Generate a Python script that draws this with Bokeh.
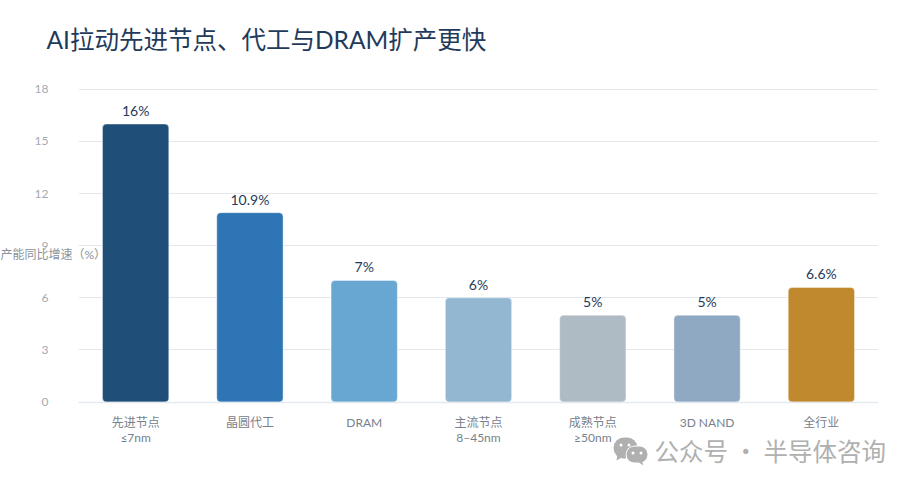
from bokeh.plotting import figure
from bokeh.models import (ColumnDataSource, FactorRange, Range1d, FixedTicker, Label,
                          BoxAnnotation, PolyAnnotation)
from bokeh.core.properties import value
from bokeh.embed import file_html
from bokeh.resources import INLINE

categories = ["先进节点\n≤7nm", "晶圆代工", "DRAM", "主流节点\n8–45nm", "成熟节点\n≥50nm", "3D NAND", "全行业"]
growth = [16, 10.9, 7, 6, 5, 5, 6.6]
bar_colors = ["#1F4E79", "#2E75B6", "#69A7D3", "#93B6D1", "#AEBBC5", "#8FA9C2", "#C0892E"]
y_ticks = [0, 3, 6, 9, 12, 15, 18]
title_text = "AI拉动先进节点、代工与DRAM扩产更快"
y_title = "产能同比增速（%）"
watermark = "公众号 · 半导体咨询"

FONT = "Lato, 'Noto Sans CJK SC', sans-serif"
CJK = "'Noto Sans CJK SC', sans-serif"
W, H = 916, 488
F_L, F_R, F_T, F_B = 78, 878, 80, 470   # frame edges in page pixels
Y0_PX, Y18_PX = 401.6, 88.8              # page rows of the values 0 and 18
PX_PER_UNIT = (Y0_PX - Y18_PX) / 18

src = ColumnDataSource(dict(cat=categories, v=growth, c=bar_colors,
                            lab=[f"{v:g}%" for v in growth]))

p = figure(width=W, height=H, output_backend="svg", toolbar_location=None,
           x_range=FactorRange(factors=categories, range_padding=0),
           y_range=Range1d(-(F_B - Y0_PX) / PX_PER_UNIT, 18 + (Y18_PX - F_T) / PX_PER_UNIT),
           min_border_left=F_L, min_border_right=W - F_R, min_border_top=F_T, min_border_bottom=H - F_B,
           background_fill_color="white", border_fill_color="white")
p.outline_line_color = None
p.xgrid.grid_line_color = None
p.ygrid.grid_line_color = "#E4E7EB"
p.ygrid.grid_line_width = 1.2
p.ygrid.ticker = FixedTicker(ticks=y_ticks)

p.yaxis.ticker = FixedTicker(ticks=y_ticks)
p.yaxis.axis_line_color = None
p.yaxis.major_tick_line_color = None
p.yaxis.minor_tick_line_color = None
p.yaxis.major_label_text_color = "#A3AAB3"
p.yaxis.major_label_text_font = FONT
p.yaxis.major_label_text_font_size = "12px"
p.yaxis.major_label_standoff = 24

p.xaxis.fixed_location = 0
p.xaxis.axis_line_color = "#E4E9EF"
p.xaxis.axis_line_width = 1.5
p.xaxis.major_tick_line_color = None
p.xaxis.minor_tick_line_color = None
p.xaxis.major_label_text_color = "#78818B"
p.xaxis.major_label_text_font = FONT
p.xaxis.major_label_text_font_size = "12px"
p.xaxis.major_label_text_line_height = 1.0
p.xaxis.major_label_standoff = 7
p.xaxis.major_label_orientation = "horizontal"

p.vbar(x="cat", top="v", width=0.58, fill_color="c", line_color="white", line_alpha=0.5,
       line_width=0.8, border_radius=4, source=src)
p.text(x="cat", y="v", text="lab", source=src, text_align="center", text_baseline="bottom",
       y_offset=-5, text_color="#1F3A5A", text_font=value(FONT), text_font_size="14px")

def text_at(x, y, text, color, font, size):
    p.add_layout(Label(x=x, y=y, x_units="canvas", y_units="canvas", text=text,
                       text_color=color, text_font=font, text_font_size=size,
                       text_align="left", text_baseline="middle"), "above")

text_at(46, 39, title_text, "#1F3A5A", FONT, "24.5px")
text_at(0, 254, y_title, "#8A929B", FONT, "12px")
text_at(654, 450, watermark, "#B0B0B0", CJK, "24.5px")

# WeChat mark of the watermark; screen units run from the frame's lower-left corner
def fx(x): return x - F_L
def fy(y): return F_B - y

def pill(l, r, t, b, color, rad):
    p.add_layout(BoxAnnotation(left=fx(l), right=fx(r), top=fy(t), bottom=fy(b),
                               left_units="screen", right_units="screen",
                               top_units="screen", bottom_units="screen",
                               fill_color=color, fill_alpha=1, line_color=None,
                               border_radius=rad))

def tail(xs, ys, color):
    p.add_layout(PolyAnnotation(xs=[fx(x) for x in xs], ys=[fy(y) for y in ys],
                                xs_units="screen", ys_units="screen",
                                fill_color=color, fill_alpha=1, line_color=None))

GR = "#B0B0B0"
pill(613, 637, 437, 458, GR, 11)
tail([617, 616, 623], [454, 460, 456], GR)
pill(619, 622, 443, 446, "white", 2)
pill(627, 630, 443, 446, "white", 2)
pill(625, 648, 445, 464, "white", 10)
pill(626, 647, 446, 462, GR, 8)
tail([641, 643, 637], [459, 465, 461], GR)
pill(631, 634, 451, 454, "white", 2)
pill(639, 642, 451, 454, "white", 2)

open("out.html", "w").write(file_html(p, INLINE))
